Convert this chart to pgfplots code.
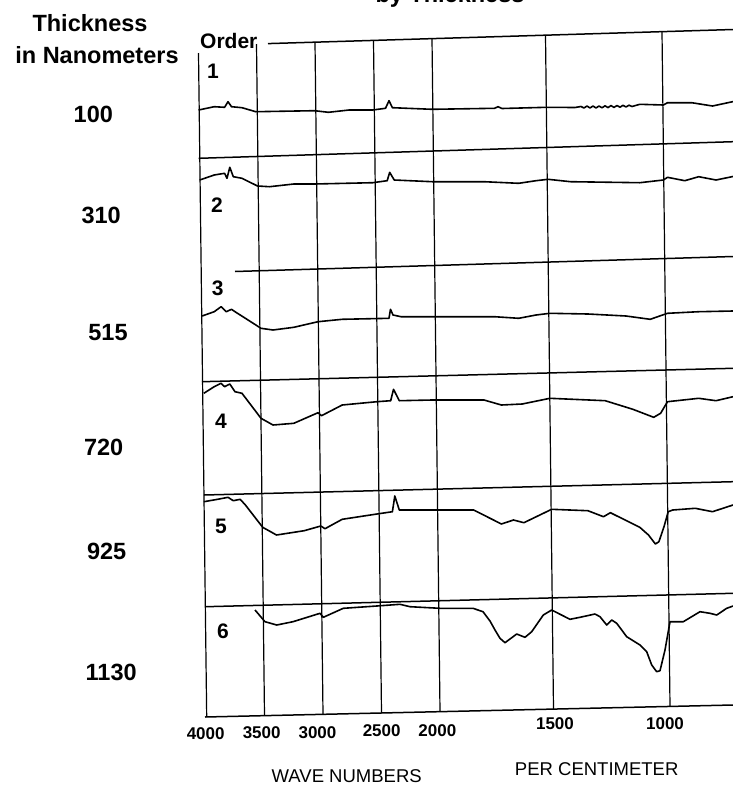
\documentclass[border=0pt]{standalone}
\usepackage{pgfplots}
\pgfplotsset{compat=1.18}
\usepackage{fontspec}
\setmainfont{Liberation Sans}
\newcommand\labf{\fontsize{23.5}{28}\selectfont\bfseries}
\newcommand\ordf{\fontsize{21}{25}\selectfont\bfseries}
\newcommand\tckf{\fontsize{17}{20}\selectfont\bfseries}
\newcommand\capf{\fontsize{18.5}{22}\selectfont}
\begin{document}
\begin{tikzpicture}
\begin{axis}[at={(0,0)}, anchor=south west, width=733pt, height=785pt,
  scale only axis, xmin=0, xmax=733, ymin=0, ymax=785, y dir=reverse,
  hide axis, clip=true]
% frame and rulings (chart positions)
\addplot[black, line width=1.2pt] coordinates {(198.5,53) (206.7,717)};
\addplot[black, line width=1.2pt] coordinates {(256.5,44) (264.5,715.4)};
\addplot[black, line width=1.2pt] coordinates {(315,42.2) (323,714.1)};
\addplot[black, line width=1.2pt] coordinates {(373.5,40.4) (381.5,712.8)};
\addplot[black, line width=1.2pt] coordinates {(432,38.6) (440,711.5)};
\addplot[black, line width=1.2pt] coordinates {(545.5,35.2) (553.5,709)};
\addplot[black, line width=1.2pt] coordinates {(662,31.6) (670,706.4)};
\addplot[black, line width=1.5pt] coordinates {(268,43.6) (733,29.5)};
\addplot[black, line width=1.5pt] coordinates {(198.6,158.3) (733,141.7)};
\addplot[black, line width=1.5pt] coordinates {(235,271.5) (733,256.5)};
\addplot[black, line width=1.5pt] coordinates {(202,381.7) (733,368.3)};
\addplot[black, line width=1.5pt] coordinates {(203.8,495) (733,481.7)};
\addplot[black, line width=1.5pt] coordinates {(205.6,606.7) (733,593.3)};
\addplot[black, line width=1.5pt] coordinates {(205,717) (733,705)};
% spectrum 1
\addplot[black, line width=1.6pt, line join=round] coordinates {
(198.6,110) (214.2,106.7) (224.6,107.3) (228,101.7) (231.5,106.7) (242,107.7)
(255.7,111.7) (314.6,110.7) (328.4,112.3) (349.2,110) (372.7,110) (385.5,108.3)
(389,100.7) (392.4,107.7) (432.2,109.3) (494.5,108.3) (498,106.7) (502,108.5)
(546.4,107.3) (575,107.5) (581,106.5) (584,108) (587,106) (590,108) (593,106)
(596,108) (599,106) (602,107.8) (605,105.8) (608,107.6) (611,105.6) (614,107.4)
(617,105.5) (620,107.2) (623,105.3) (626,107) (629,105.2) (632,106.5) (639.8,104.3)
(663.4,105) (667.5,102.7) (691.7,102.7) (712.5,106) (732.6,101.7) (733,101.5)};
% spectrum 2
\addplot[black, line width=1.6pt, line join=round] coordinates {
(199.7,180) (214.2,175) (224.6,173.3) (227,178.3) (229.8,167.3) (233.3,176.7)
(242,178.3) (257.5,186) (269.6,186.7) (293.8,184) (314.6,184) (372.7,182.7)
(387.2,180.7) (389.7,172.3) (394.2,180) (432.2,181.7) (484,181.7) (518.7,183.3)
(536,180.7) (548,179.3) (570.6,181.7) (639.8,182.7) (663.4,180) (667.5,177.3)
(684.8,180.7) (698.7,176.7) (716,180) (733,176.5)};
% spectrum 3
\addplot[black, line width=1.6pt, line join=round] coordinates {
(202.1,316) (214.2,311.7) (221.1,306.7) (226.3,311.7) (231.5,309.3) (235,311.7)
(245.4,318.3) (261,328.3) (273,330) (293.8,327.3) (318,321.7) (342.2,319.3)
(389,318.3) (390.5,309.3) (393,315) (401,316.7) (432.2,316.7) (494.5,316.7)
(518.7,318.3) (536,315) (549.9,313.3) (588,314) (626,316) (650.2,319.3)
(667.5,313.3) (698.7,311.7) (733,311)};
% spectrum 4
\addplot[black, line width=1.6pt, line join=round] coordinates {
(203.8,393.3) (214.2,386.7) (221.1,383.3) (224.6,386.7) (229.8,384) (235,391.7)
(242,393.3) (261,418.3) (273,425) (293.8,423.3) (318,412.7) (321.5,415.7)
(342.2,405) (376.9,401.7) (390.7,400.7) (393.5,389.3) (399.3,400.7) (432.2,400)
(484,400) (501.4,405) (522.2,404) (549.9,398.3) (605.2,400.7) (632.9,409.3)
(653.7,417.3) (660.6,413.3) (667.5,401.7) (698.7,398.3) (716,400.7) (733,396.7)};
% spectrum 5
\addplot[black, line width=1.6pt, line join=round] coordinates {
(203.8,501.7) (217.7,499.3) (228,497.3) (233.3,500.7) (240.2,499.3) (245.4,505)
(262.7,527.3) (276.5,535) (304.2,530.7) (320.8,526) (325,528.7) (342.2,519.3)
(376.9,514) (392.4,511.7) (394.8,496) (399.3,510) (473.7,510) (501.4,524)
(513.5,520) (523.9,522.7) (551.6,509.3) (587.9,510.7) (603.5,516.7) (610.4,512.7)
(639.8,527.3) (648.5,535) (655.4,544) (658.9,541.7) (664,526.7) (668.2,511.7)
(672.7,510) (695.2,508.3) (712.5,511.7) (733,505)};
% spectrum 6
\addplot[black, line width=1.6pt, line join=round] coordinates {
(255,610) (265,621.7) (276.7,625) (293,621.7) (320,613.3) (323.3,617.3)
(343.3,608.3) (376.7,606) (400,604.3) (410,606.7) (440,608.3) (473,608.3)
(483,611.7) (490,621) (495,630) (500,638.3) (505,642.7) (516.7,634) (525,637.3)
(531.7,631.7) (543.3,615) (551.7,610) (555,611.7) (570,619.3) (580,617.3)
(595,614) (600,616.7) (606.7,625) (611.7,620) (616.7,623.3) (626.7,636.7)
(640,645) (646.7,651.7) (651.7,665) (656.7,671.7) (660,670.7) (665,650)
(670,621.7) (683.3,621.7) (700,611.7) (710,613.3) (716.7,615) (726.7,608.3)
(733,606)};
% texts
\node[anchor=base, inner sep=0] at (axis cs:450,2) {\labf by Thickness};
\node[anchor=base, inner sep=0] at (axis cs:90,31.7) {\labf Thickness};
\node[anchor=base, inner sep=0] at (axis cs:97,63) {\labf in Nanometers};
\node[anchor=base west, inner sep=0] at (axis cs:200,48.3) {\ordf Order};
\node[inner sep=0] at (axis cs:93.3,114.6) {\labf 100};
\node[inner sep=0] at (axis cs:101.2,215.5) {\labf 310};
\node[inner sep=0] at (axis cs:108,332.9) {\labf 515};
\node[inner sep=0] at (axis cs:103.7,447.9) {\labf 720};
\node[inner sep=0] at (axis cs:106.7,551.4) {\labf 925};
\node[inner sep=0] at (axis cs:111.2,672.2) {\labf 1130};
\node[inner sep=0] at (axis cs:213,71.5) {\ordf 1};
\node[inner sep=0] at (axis cs:217,205) {\ordf 2};
\node[inner sep=0] at (axis cs:217.7,288.3) {\ordf 3};
\node[inner sep=0] at (axis cs:221,421.7) {\ordf 4};
\node[inner sep=0] at (axis cs:221,526.7) {\ordf 5};
\node[inner sep=0] at (axis cs:223,631.7) {\ordf 6};
\node[anchor=base, inner sep=0] at (axis cs:205.7,739.3) {\tckf 4000};
\node[anchor=base, inner sep=0] at (axis cs:261.7,738.3) {\tckf 3500};
\node[anchor=base, inner sep=0] at (axis cs:317.5,738.3) {\tckf 3000};
\node[anchor=base, inner sep=0] at (axis cs:381.7,736.7) {\tckf 2500};
\node[anchor=base, inner sep=0] at (axis cs:437.3,736) {\tckf 2000};
\node[anchor=base, inner sep=0] at (axis cs:555,729) {\tckf 1500};
\node[anchor=base, inner sep=0] at (axis cs:665,729) {\tckf 1000};
\node[anchor=base, inner sep=0] at (axis cs:346.7,782.5) {\capf WAVE NUMBERS};
\node[anchor=base, inner sep=0] at (axis cs:596.7,775) {\capf PER CENTIMETER};
\end{axis}
\pgfresetboundingbox
\path[use as bounding box] (0,0) rectangle (733pt,785pt);
\end{tikzpicture}
\end{document}
